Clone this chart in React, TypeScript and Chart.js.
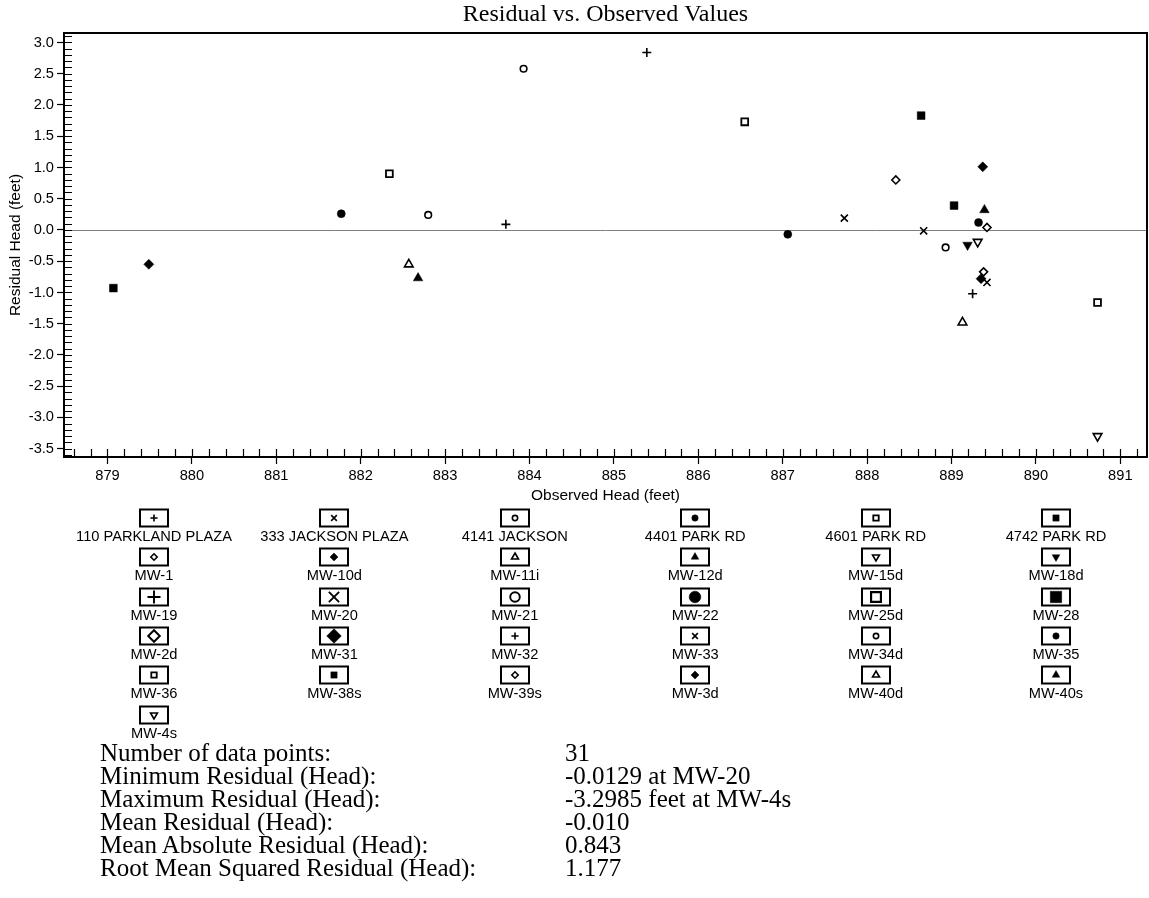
import React, { useEffect, useRef } from 'react';
import { Chart, registerables } from 'chart.js';
import { drawPoint } from 'chart.js/helpers';

Chart.register(...registerables);

// ---------------- data ----------------
const wellNames = [
  '110 PARKLAND PLAZA', '333 JACKSON PLAZA', '4141 JACKSON', '4401 PARK RD', '4601 PARK RD', '4742 PARK RD',
  'MW-1', 'MW-10d', 'MW-11i', 'MW-12d', 'MW-15d', 'MW-18d',
  'MW-19', 'MW-20', 'MW-21', 'MW-22', 'MW-25d', 'MW-28',
  'MW-2d', 'MW-31', 'MW-32', 'MW-33', 'MW-34d', 'MW-35',
  'MW-36', 'MW-38s', 'MW-39s', 'MW-3d', 'MW-40d', 'MW-40s',
  'MW-4s',
];

const observedHead = [
  885.39, 887.73, 883.93, 881.77, 886.55, 888.64,
  888.34, 879.49, 882.57, 882.68, 889.31, 889.19,
  883.72, 888.67, 882.80, 887.06, 882.34, 879.07,
  889.42, 889.37, 889.25, 889.42, 888.93, 889.32,
  890.73, 889.03, 889.38, 889.35, 889.13, 889.39,
  890.73,
];

const residualHead = [
  2.84, 0.19, 2.58, 0.26, 1.73, 1.83,
  0.80, -0.55, -0.55, -0.77, -0.19, -0.24,
  0.09, -0.0129, 0.24, -0.07, 0.90, -0.93,
  0.04, 1.01, -1.02, -0.84, -0.28, 0.12,
  -1.16, 0.39, -0.67, -0.78, -1.48, 0.32,
  -3.2985,
];

const xTickValues = [879, 880, 881, 882, 883, 884, 885, 886, 887, 888, 889, 890, 891];
const yTickValues = [-3.5, -3.0, -2.5, -2.0, -1.5, -1.0, -0.5, 0.0, 0.5, 1.0, 1.5, 2.0, 2.5, 3.0];

const statLabels = [
  'Number of data points:',
  'Minimum Residual (Head):',
  'Maximum Residual (Head):',
  'Mean Residual (Head):',
  'Mean Absolute Residual (Head):',
  'Root Mean Squared Residual (Head):',
];
const statValues = ['31', '-0.0129 at MW-20', '-3.2985 feet at MW-4s', '-0.010', '0.843', '1.177'];

// ---------------- styles ----------------
const markerKeys = [
  'plus', 'x', 'circO', 'circF', 'sqO', 'sqF',
  'diaO', 'diaF', 'triO', 'triF', 'tdO', 'tdF',
  'plus', 'x', 'circO', 'circF', 'sqO', 'sqF',
  'diaO', 'diaF', 'plus', 'x', 'circO', 'circF',
  'sqO', 'sqF', 'diaO', 'diaF', 'triO', 'triF',
  'tdO',
];
const bigLegendWells = ['MW-19', 'MW-20', 'MW-21', 'MW-22', 'MW-25d', 'MW-28', 'MW-2d', 'MW-31'];

type M = { pointStyle: any; radius: number; borderWidth: number; fill: string; rotation: number };
const MARKERS: Record<string, M> = {
  plus: { pointStyle: 'cross', radius: 4.5, borderWidth: 1.6, fill: 'rgba(0,0,0,0)', rotation: 0 },
  x: { pointStyle: 'crossRot', radius: 5, borderWidth: 1.6, fill: 'rgba(0,0,0,0)', rotation: 0 },
  circO: { pointStyle: 'circle', radius: 3.3, borderWidth: 1.6, fill: '#fff', rotation: 0 },
  circF: { pointStyle: 'circle', radius: 4, borderWidth: 0.5, fill: '#000', rotation: 0 },
  sqO: { pointStyle: 'rect', radius: 4.8, borderWidth: 1.8, fill: '#fff', rotation: 0 },
  sqF: { pointStyle: 'rect', radius: 5.5, borderWidth: 0.5, fill: '#000', rotation: 0 },
  diaO: { pointStyle: 'rectRot', radius: 4.0, borderWidth: 1.6, fill: '#fff', rotation: 0 },
  diaF: { pointStyle: 'rectRot', radius: 5, borderWidth: 0.5, fill: '#000', rotation: 0 },
  triO: { pointStyle: 'triangle', radius: 5, borderWidth: 1.6, fill: '#fff', rotation: 0 },
  triF: { pointStyle: 'triangle', radius: 5.5, borderWidth: 0.5, fill: '#000', rotation: 0 },
  tdO: { pointStyle: 'triangle', radius: 5, borderWidth: 1.6, fill: '#fff', rotation: 180 },
  tdF: { pointStyle: 'triangle', radius: 5.5, borderWidth: 0.5, fill: '#000', rotation: 180 },
};

const SANS = "'Liberation Sans', Arial, sans-serif";
const SERIF = "'Liberation Serif', 'Times New Roman', serif";

const CANVAS_W = 1149;
const CANVAS_H = 760;
const PLOT_BOTTOM = 457;
const X_AXIS_H = 50;

const LEGEND_COL0 = 154;
const LEGEND_COL_STEP = 180.4;
const LEGEND_ROW0 = 518;
const LEGEND_ROW_STEP = 39.3;

const framePlugin = {
  id: 'frameAndLegend',
  beforeDatasetsDraw(chart: any) {
    const { ctx, chartArea: a, scales } = chart;
    const xs = scales.x;
    const ys = scales.y;
    ctx.save();
    // zero line
    const y0 = Math.round(ys.getPixelForValue(0)) + 0.5;
    ctx.strokeStyle = '#7f7f7f';
    ctx.lineWidth = 1;
    ctx.beginPath();
    ctx.moveTo(a.left, y0);
    ctx.lineTo(a.right, y0);
    ctx.stroke();
    // minor / inner ticks
    ctx.strokeStyle = '#000';
    ctx.lineWidth = 1.2;
    ctx.beginPath();
    for (let i = Math.ceil(xs.min * 5 - 1e-6); i <= Math.floor(xs.max * 5 + 1e-6); i++) {
      const px = Math.round(xs.getPixelForValue(i / 5)) + 0.5;
      ctx.moveTo(px, a.bottom);
      ctx.lineTo(px, a.bottom - 8);
    }
    for (let i = Math.ceil(ys.min * 10 - 1e-6); i <= Math.floor(ys.max * 10 + 1e-6); i++) {
      const py = Math.round(ys.getPixelForValue(i / 10)) + 0.5;
      ctx.moveTo(a.left, py);
      ctx.lineTo(a.left + 8, py);
    }
    ctx.stroke();
    // frame
    ctx.lineWidth = 2;
    ctx.strokeRect(a.left, a.top, a.right - a.left, a.bottom - a.top);
    ctx.restore();
  },
  afterDraw(chart: any) {
    const { ctx } = chart;
    ctx.save();
    wellNames.forEach((name, i) => {
      const col = i % 6;
      const row = Math.floor(i / 6);
      const cx = LEGEND_COL0 + col * LEGEND_COL_STEP;
      const cy = LEGEND_ROW0 + row * LEGEND_ROW_STEP;
      // box
      ctx.strokeStyle = '#000';
      ctx.lineWidth = 2;
      ctx.fillStyle = '#fff';
      ctx.fillRect(Math.round(cx) - 14, Math.round(cy) - 8.5, 28, 17);
      ctx.strokeRect(Math.round(cx) - 14, Math.round(cy) - 8.5, 28, 17);
      // marker
      const m = MARKERS[markerKeys[i]];
      const big = bigLegendWells.includes(name);
      const scale = big ? 1.45 : 0.8;
      ctx.fillStyle = m.fill;
      ctx.strokeStyle = '#000';
      ctx.lineWidth = m.borderWidth * (big ? 1.2 : 1);
      drawPoint(ctx, {
        pointStyle: m.pointStyle,
        rotation: m.rotation,
        radius: m.radius * scale,
        borderWidth: m.borderWidth,
      } as any, Math.round(cx), Math.round(cy));
      // label
      ctx.fillStyle = '#000';
      ctx.font = `14.67px ${SANS}`;
      ctx.textAlign = 'center';
      ctx.textBaseline = 'middle';
      ctx.fillText(name, cx, cy + 19);
    });
    ctx.restore();
  },
};

export default function App() {
  const canvasRef = useRef<HTMLCanvasElement | null>(null);

  useEffect(() => {
    const canvas = canvasRef.current;
    if (!canvas) return;
    Chart.defaults.font.family = SANS;
    Chart.defaults.color = '#000';

    const datasets = wellNames.map((name, i) => {
      const m = MARKERS[markerKeys[i]];
      return {
        label: name,
        data: [{ x: observedHead[i], y: residualHead[i] }],
        pointStyle: m.pointStyle,
        pointRadius: m.radius,
        pointRotation: m.rotation,
        pointBorderWidth: m.borderWidth,
        pointBackgroundColor: m.fill,
        pointBorderColor: '#000',
        showLine: false,
      };
    });

    const chart = new Chart(canvas, {
      type: 'scatter',
      data: { datasets },
      plugins: [framePlugin],
      options: {
        animation: false,
        responsive: false,
        devicePixelRatio: 1,
        events: [],
        layout: { autoPadding: false, padding: { top: 0, left: 0, right: 2, bottom: CANVAS_H - PLOT_BOTTOM - X_AXIS_H } },
        plugins: {
          legend: { display: false },
          tooltip: { enabled: false },
          title: {
            display: true,
            text: 'Residual vs. Observed Values',
            fullSize: false,
            color: '#000',
            font: { family: SERIF, size: 24, weight: 'normal', lineHeight: 1.2 },
            padding: { top: 0, bottom: 4.2 },
          },
        },
        scales: {
          x: {
            type: 'linear',
            min: 878.485,
            max: 891.316,
            afterBuildTicks: (s: any) => { s.ticks = xTickValues.map((v) => ({ value: v })); },
            afterFit: (s: any) => { s.height = X_AXIS_H; },
            ticks: {
              autoSkip: false,
              maxRotation: 0,
              padding: 3,
              color: '#000',
              font: { family: SANS, size: 14.67 },
              callback: (v: any) => String(v),
            },
            grid: { drawOnChartArea: false, drawTicks: true, tickLength: 7, tickColor: '#000', tickWidth: 1.2 },
            border: { display: false },
            title: {
              display: true,
              text: 'Observed Head (feet)',
              color: '#000',
              font: { family: SANS, size: 15.5 },
              padding: { top: 0, bottom: 2 },
            },
          },
          y: {
            type: 'linear',
            min: -3.633,
            max: 3.152,
            afterBuildTicks: (s: any) => { s.ticks = yTickValues.map((v) => ({ value: v })); },
            afterFit: (s: any) => { s.width = 64; },
            ticks: {
              autoSkip: false,
              padding: 3,
              color: '#000',
              font: { family: SANS, size: 14.67 },
              callback: (v: any) => Number(v).toFixed(1),
            },
            grid: { drawOnChartArea: false, drawTicks: true, tickLength: 7, tickColor: '#000', tickWidth: 1.2 },
            border: { display: false },
            title: {
              display: true,
              text: 'Residual Head (feet)',
              color: '#000',
              font: { family: SANS, size: 15.5 },
              padding: { top: 6, bottom: 0 },
            },
          },
        },
      } as any,
    });

    return () => { chart.destroy(); };
  }, []);

  const statStyle: React.CSSProperties = {
    position: 'absolute', fontFamily: SERIF, fontSize: 25, lineHeight: '23px', whiteSpace: 'nowrap', color: '#000',
  };

  return (
    <div style={{ position: 'absolute', left: 0, top: 0, width: CANVAS_W, height: 898, background: '#fff' }}>
      <canvas ref={canvasRef} width={CANVAS_W} height={CANVAS_H} style={{ display: 'block' }} />
      {statLabels.map((label, i) => (
        <React.Fragment key={label}>
          <div style={{ ...statStyle, left: 100, top: 740.5 + i * 23 }}>{label}</div>
          <div style={{ ...statStyle, left: 565, top: 740.5 + i * 23 }}>{statValues[i]}</div>
        </React.Fragment>
      ))}
    </div>
  );
}
